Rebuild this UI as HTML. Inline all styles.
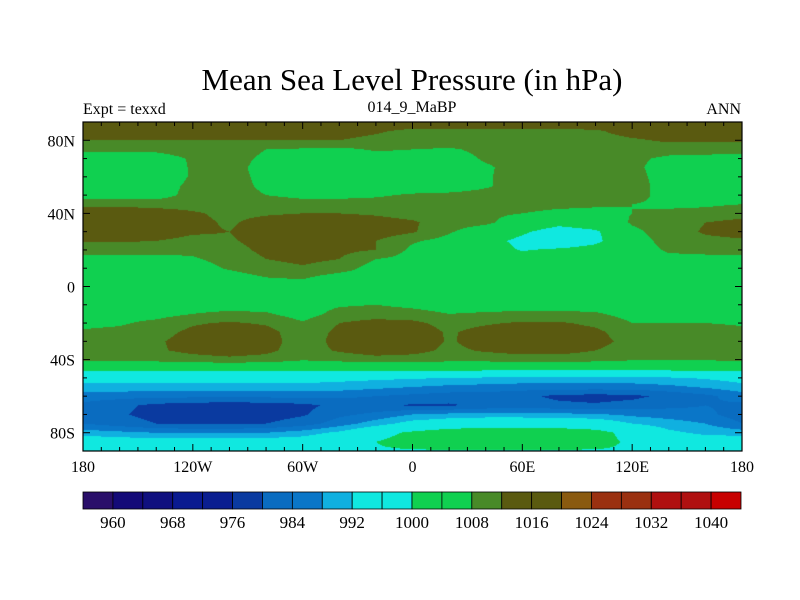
<!DOCTYPE html>
<html><head><meta charset="utf-8"><style>
body{margin:0;background:#fff;}
#wrap{position:relative;width:800px;height:600px;overflow:hidden;background:#fff;font-family:"Liberation Serif",serif;color:#000;}
.t{position:absolute;white-space:nowrap;}
canvas{position:absolute;left:83px;top:122px;}
svg{position:absolute;left:0;top:0;}
</style></head><body>
<div id="wrap">
<div class="t" style="left:0;width:824px;text-align:center;top:62px;font-size:31px;">Mean Sea Level Pressure (in hPa)</div>
<div class="t" style="left:83px;top:101px;font-size:16px;">Expt = texxd</div>
<div class="t" style="left:312px;width:200px;text-align:center;top:99px;font-size:16px;">014_9_MaBP</div>
<div class="t" style="right:59px;top:101px;font-size:16px;">ANN</div>
<canvas id="map" width="659" height="329"></canvas>
<svg id="ov" width="800" height="600"></svg>
</div>
<script>
const lons=[-180,-160,-140,-120,-100,-80,-60,-40,-20,0,20,40,60,80,100,120,140,160,180];
const lats=[90,85,80,75,70,65,60,55,50,45,40,35,30,25,20,15,10,5,0,-5,-10,-15,-20,-25,-30,-35,-40,-45,-50,-55,-60,-65,-70,-75,-80,-85,-90];
const pressureRows=[
[1015,1015,1015,1015,1015,1015,1015,1015,1015,1015,1015,1015,1015,1015,1015,1015,1015,1015,1015],
[1013.5,1013.5,1013.5,1013.5,1013.5,1013.5,1013.5,1013.5,1012.5,1011,1011,1011,1011,1011,1011.5,1013.5,1013.5,1013.5,1013.5],
[1012,1012,1012,1012,1012,1012,1012,1012,1011,1010.5,1010.5,1010.5,1010.5,1010.5,1010.5,1011.5,1012.5,1012.5,1012.5],
[1009,1009,1009,1010,1010.5,1008,1007.5,1007,1008.5,1008,1007.5,1009,1009,1010,1010.5,1011,1010,1010,1010],
[1006,1005.5,1006,1008.5,1010,1007,1005,1005,1006,1006,1006,1008.5,1008.5,1009.5,1010,1009,1007,1006.5,1006],
[1005,1004.5,1005,1008.5,1010,1006,1004,1004,1005,1005.5,1005.5,1007.5,1009.5,1010,1010,1009,1006,1005,1005],
[1004.5,1004,1005,1008.5,1010,1006.5,1004,1004,1005,1005.5,1005.5,1007.5,1010,1010.5,1010.5,1009.5,1006,1005,1004.5],
[1005,1005,1006,1009,1010,1007,1005,1005,1005.5,1005.5,1005.5,1007.5,1010,1010.5,1010.5,1009.5,1006.5,1005.5,1005],
[1005.5,1005.5,1006,1009.5,1010,1008,1007,1007,1007.5,1008.5,1009,1009.5,1010,1010,1009.5,1009,1007,1006.5,1006],
[1011,1011,1010.5,1010.5,1010.5,1010,1009.5,1009.5,1009.5,1009.5,1010,1009.5,1009.5,1009,1008.5,1008,1007.5,1007.5,1008],
[1014.5,1014.5,1014,1012.5,1011,1011.5,1012,1012,1011.5,1010.5,1010,1009,1008,1007,1007,1008,1008.5,1009,1010],
[1015,1015,1014.5,1013,1011.5,1013.5,1014.5,1014.5,1013.5,1012.5,1010,1009,1005,1002,1004,1008.5,1010,1012,1013.5],
[1014.5,1014.5,1014,1012.5,1012,1014,1015,1015,1014.5,1012.5,1008.5,1005,1001,997,999,1007,1010,1012.5,1013.5],
[1012.5,1012.5,1012,1011,1011.5,1013.5,1014,1013.5,1012,1008.5,1006.5,1002,998.5,995,998.5,1006,1009.5,1011,1011.5],
[1009.5,1009.5,1009,1009,1010.5,1013,1014,1013,1012,1007,1006,1003,999.5,1001,1002.5,1006,1008.5,1009,1009],
[1007,1007,1007,1007.5,1009.5,1012,1013,1012,1008,1006.5,1006,1005,1004,1005,1005.5,1006,1007,1007,1007],
[1006,1006,1006,1006,1008.5,1010.5,1011.5,1010,1006,1006,1006,1006,1006,1006,1006,1006,1006,1006,1006],
[1006,1006,1006,1006,1006,1008,1008.5,1006,1006,1006,1006,1006,1006,1006,1006,1006,1006,1006,1006],
[1006,1006,1006,1006,1006,1006,1006,1006,1006,1006,1006,1006,1006,1006,1006,1006,1006,1006,1006],
[1006,1006,1006,1006,1006,1006,1006,1006,1006,1006,1006,1006,1006,1006,1006,1006,1006,1006,1006],
[1006,1006,1006,1006,1006,1006,1006,1007.5,1008,1007,1006,1006,1006,1006,1006,1006,1006,1006,1006],
[1006.5,1006.5,1006.5,1008,1009,1008.5,1006,1009.5,1010,1009.5,1008,1008.5,1009,1009,1008.5,1006.5,1006.5,1006.5,1006.5],
[1007,1007.5,1009,1011.5,1012.5,1011.5,1008.5,1012,1013.5,1013,1010.5,1011.5,1012.5,1012.5,1011,1008,1008,1008,1007.5],
[1008.5,1009,1010.5,1013,1014.5,1013.5,1009.5,1013,1015,1014.5,1011.5,1013.5,1014.5,1014.5,1013,1009.5,1009.5,1010,1009],
[1010,1010.5,1011.5,1013.5,1015,1014,1009.5,1013.5,1015.5,1015,1011.5,1014,1015,1015,1013.5,1010.5,1010.5,1011,1010.5],
[1010,1010.5,1011.5,1013,1014,1013,1010,1012.5,1014,1013.5,1011,1012.5,1013.5,1013.5,1012,1010,1010,1010,1010],
[1009,1009,1009.5,1010.5,1011,1010.5,1008.5,1009.5,1010.5,1010,1009.5,1009.5,1010,1010,1009.5,1008.5,1008.5,1008.5,1009],
[1002,1002,1002,1002,1002,1002,1002,1002,1002,1002,1002,1002,1002,1002,1002,1002,1002,1002,1002],
[994,994,994,994,994,994,994,993.5,993,992.5,992,991.5,991,991,991,991,991.5,992.5,994],
[990.5,990.5,990.5,990.5,990.5,990.5,990.5,990,989,988,987,986.5,986,986,986,986,987,988.5,990.5],
[986,985.5,985,985,985,985,985,985,984,983,982,982,981,979,978.5,979,981,983,986],
[983,981,979,978,977.5,978,979,981,981,979.5,979.5,981,982,981,980.5,981.5,983,984,983],
[982,980.5,978.5,977.5,977,978,979.5,983,985,988,989,989.5,989.5,989,988.5,987,986,985,982],
[984,982,980,979.5,979.5,980,982,986,990,994,996,997,997,997,996,992,990,988,984],
[990,989,988,987.5,987.5,988,990,993,998,1001,1003,1003.5,1003.5,1003,1002,998,993,991,990],
[996,995,995,995,995,995,995,997,1000,1002,1003.5,1004,1004,1003.5,1002,999,996,995,996],
[999.5,999.5,999.5,999.5,999.5,999.5,999.5,999.5,999.5,999.5,999.5,999.5,999.5,999.5,999.5,999.5,999.5,999.5,999.5]
];
const levelLabels=[960,968,976,984,992,1000,1008,1016,1024,1032,1040];
const levelStart=960, levelStep=4;
const palette=["#2a0f6a","#140a78","#10107f","#0a1a90","#0a1e90","#0a3aa0","#0a6cc0","#0a76c8","#10b0e0","#10e8e0","#10e8e0","#10d050","#10d050","#488a28","#5a5a10","#5a5a10","#8a5a10","#9a3010","#9a3010","#b01010","#b01010","#c80000"];

const X0=83,Y0=122,W=659,H=329;
const xOfLon=l=>X0+(l+180)/360*W;
const yOfLat=l=>Y0+(90-l)/180*H;
function colorIndex(v){if(v<levelStart)return 0;return Math.min(palette.length-1,Math.floor((v-levelStart)/levelStep)+1);}
function hex(c){return [parseInt(c.slice(1,3),16),parseInt(c.slice(3,5),16),parseInt(c.slice(5,7),16)];}
const rgb=palette.map(hex);
function sample(lon,lat){
  let fi=(lon-lons[0])/(lons[1]-lons[0]);fi=Math.max(0,Math.min(lons.length-1.0001,fi));
  let fj=(lats[0]-lat)/(lats[0]-lats[1]);fj=Math.max(0,Math.min(lats.length-1.0001,fj));
  const i=Math.floor(fi),j=Math.floor(fj),a=fi-i,b=fj-j;
  const r0=pressureRows[j],r1=pressureRows[j+1];
  return (r0[i]*(1-a)+r0[i+1]*a)*(1-b)+(r1[i]*(1-a)+r1[i+1]*a)*b;
}
const cv=document.getElementById('map'),ctx=cv.getContext('2d');
const img=ctx.createImageData(W,H);
for(let py=0;py<H;py++){for(let px=0;px<W;px++){
  const lon=-180+(px+0.5)/W*360,lat=90-(py+0.5)/H*180;
  const c=rgb[colorIndex(sample(lon,lat))];const k=(py*W+px)*4;
  img.data[k]=c[0];img.data[k+1]=c[1];img.data[k+2]=c[2];img.data[k+3]=255;}}
ctx.putImageData(img,0,0);

const NS='http://www.w3.org/2000/svg';const ov=document.getElementById('ov');
function mk(tag,attrs){const e=document.createElementNS(NS,tag);for(const k in attrs)e.setAttribute(k,attrs[k]);ov.appendChild(e);return e;}
const frame=mk('rect',{x:X0,y:Y0,width:W,height:H,fill:'none',stroke:'#000','stroke-width':1.2});


for(let l=-180;l<=180;l+=10){const x=xOfLon(l);const len=(l%60===0)?7:4;
  const t1=mk('line',{x1:x,y1:Y0+H,x2:x,y2:Y0+H-len,stroke:'#000','stroke-width':1});
  
  
  const t2=mk('line',{x1:x,y1:Y0,x2:x,y2:Y0+len,stroke:'#000','stroke-width':1});
  
  }
for(let l=-90;l<=90;l+=10){const y=yOfLat(l);const len=(l%40===0)?7:4;
  const t1=mk('line',{x1:X0,y1:y,x2:X0+len,y2:y,stroke:'#000','stroke-width':1});
  
  
  const t2=mk('line',{x1:X0+W,y1:y,x2:X0+W-len,y2:y,stroke:'#000','stroke-width':1});
  
  }
const lonTickVals=[-180,-120,-60,0,60,120,180];
const lonTickLabels=["180","120W","60W","0","60E","120E","180"];
lonTickVals.forEach((l,i)=>{const t=mk('text',{x:xOfLon(l),y:472,'text-anchor':'middle','font-size':16,'font-family':'Liberation Serif, serif'});t.textContent=lonTickLabels[i];
  
  });
const latTickVals=[80,40,0,-40,-80];
const latTickLabels=["80N","40N","0","40S","80S"];
latTickVals.forEach((l,i)=>{const t=mk('text',{x:75,y:yOfLat(l)+6,'text-anchor':'end','font-size':16,'font-family':'Liberation Serif, serif'});t.textContent=latTickLabels[i];
  
  });
const CB0=83,CBW=658,CBY=492,CBH=17,bw=CBW/palette.length;
palette.forEach((c,i)=>{const r=mk('rect',{x:CB0+i*bw,y:CBY,width:bw,height:CBH,fill:c,stroke:'#000','stroke-width':0.8});
  
  });
levelLabels.forEach(v=>{const idx=(v-levelStart)/levelStep+1;const t=mk('text',{x:CB0+idx*bw,y:528,'text-anchor':'middle','font-size':17,'font-family':'Liberation Serif, serif'});t.textContent=v;
  
  });
</script>
</body></html>
